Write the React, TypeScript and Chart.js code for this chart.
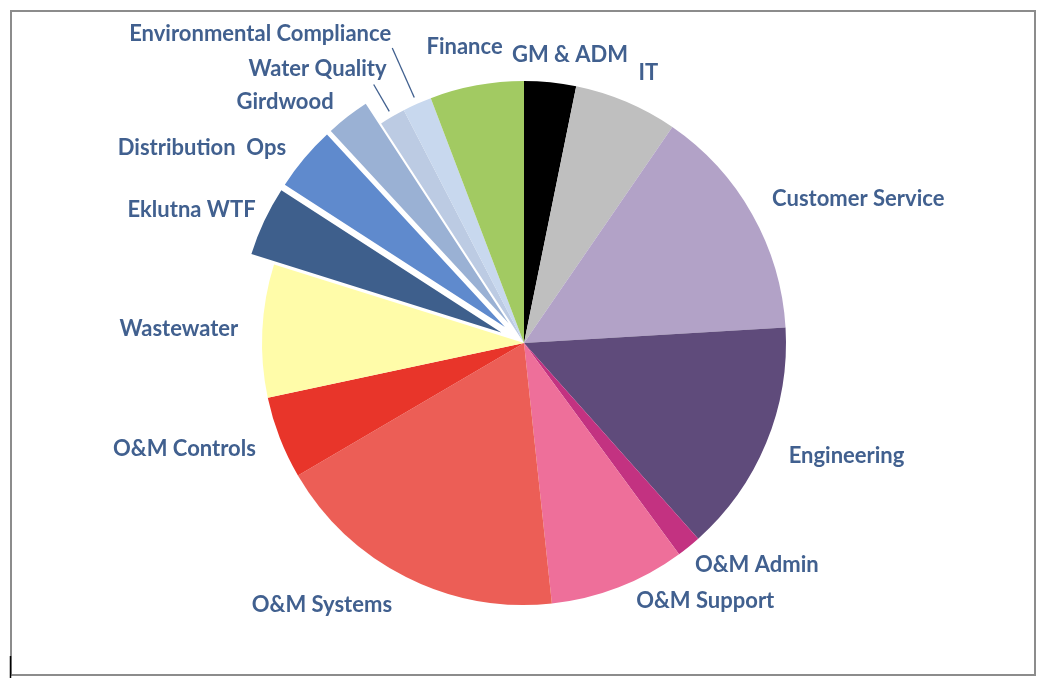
import { useEffect, useRef } from "react";
import { Chart, registerables } from "chart.js";

Chart.register(...registerables);

const categories = [
  "GM & ADM",
  "IT",
  "Customer Service",
  "Engineering",
  "O&M Admin",
  "O&M Support",
  "O&M Systems",
  "O&M Controls",
  "Wastewater",
  "Eklutna WTF",
  "Distribution  Ops",
  "Girdwood",
  "Water Quality",
  "Environmental Compliance",
  "Finance",
];
const shares = [3.2, 6.4, 14.5, 14.4, 1.5, 8.4, 18.3, 5.1, 8.2, 4.3, 4.0, 2.7, 1.6, 1.8, 5.8];
const sliceColors = [
  "#000000",
  "#BFBFBF",
  "#B2A2C7",
  "#5F4B7B",
  "#C33281",
  "#EE6F9A",
  "#EC5E56",
  "#E8352A",
  "#FFFCA9",
  "#3E5F8C",
  "#5F8ACD",
  "#9AB1D4",
  "#BCCBE3",
  "#C8D8EE",
  "#A2CA62",
];
const explodedSlices = [false, false, false, false, false, false, false, false, false, true, true, true, false, false, false];

// label placement tweaks (distance beyond the rim, horizontal nudge)
const labelGap = [28, 31, 31, 33, 24, 15, 31, 32, 28, 25, 16, 18, 55, 76, 39];
const labelNudge = [17, 0, -7, -8, -9, 12, 0, 6, 4, 14, -6, -3, 22, 5, -5];
const leaderLines: Record<number, [number, number]> = { 12: [6, 37], 13: [7, 61] };

const EXPLODE = 25;
const LABEL_COLOR = "#41608F";

const explodePlugin = {
  id: "explodeSlices",
  beforeDatasetDraw(chart: any, args: any) {
    const ctx = chart.ctx;
    args.meta.data.forEach((arc: any, i: number) => {
      const d = explodedSlices[i] ? EXPLODE : 0;
      const mid = (arc.startAngle + arc.endAngle) / 2;
      ctx.save();
      ctx.translate(Math.cos(mid) * d, Math.sin(mid) * d);
      arc.draw(ctx);
      ctx.restore();
    });
    return false;
  },
};

const labelPlugin = {
  id: "outsideLabels",
  afterDraw(chart: any) {
    const ctx = chart.ctx;
    const meta = chart.getDatasetMeta(0);
    ctx.save();
    ctx.font = "bold 22px Lato, 'Open Sans', sans-serif";
    ctx.fillStyle = LABEL_COLOR;
    ctx.textBaseline = "middle";
    meta.data.forEach((arc: any, i: number) => {
      const mid = (arc.startAngle + arc.endAngle) / 2;
      const cx = Math.cos(mid);
      const cy = Math.sin(mid);
      const R = arc.outerRadius;
      const ex = explodedSlices[i] ? EXPLODE : 0;
      const dist = R + ex + labelGap[i];
      const x = arc.x + cx * dist + labelNudge[i];
      const y = arc.y + cy * dist;
      ctx.textAlign = Math.abs(cx) < 0.2 ? "center" : cx > 0 ? "left" : "right";
      ctx.fillText(categories[i], x, y);
      const ll = leaderLines[i];
      if (ll) {
        ctx.beginPath();
        ctx.strokeStyle = LABEL_COLOR;
        ctx.lineWidth = 1.3;
        ctx.moveTo(arc.x + cx * (R + ll[0]), arc.y + cy * (R + ll[0]));
        ctx.lineTo(arc.x + cx * (R + ll[1]), arc.y + cy * (R + ll[1]));
        ctx.stroke();
      }
    });
    ctx.restore();
  },
};

const framePlugin = {
  id: "frame",
  beforeDraw(chart: any) {
    const ctx = chart.ctx;
    ctx.save();
    ctx.fillStyle = "#ffffff";
    ctx.fillRect(0, 0, chart.width, chart.height);
    ctx.strokeStyle = "#8C8C8C";
    ctx.lineWidth = 2;
    ctx.strokeRect(11, 11, 1024, 664);
    ctx.beginPath();
    ctx.strokeStyle = "#000000";
    ctx.lineWidth = 1.5;
    ctx.moveTo(10.5, 656);
    ctx.lineTo(10.5, 678);
    ctx.stroke();
    ctx.restore();
  },
};

export default function App() {
  const canvasRef = useRef<HTMLCanvasElement | null>(null);

  useEffect(() => {
    if (!canvasRef.current) return;
    const chart = new Chart(canvasRef.current, {
      type: "pie",
      data: {
        labels: categories,
        datasets: [
          {
            data: shares,
            backgroundColor: sliceColors,
            borderWidth: 0,
            radius: 262,
          } as any,
        ],
      },
      options: {
        responsive: false,
        animation: false,
        layout: { padding: 0 },
        plugins: {
          legend: { display: false },
          tooltip: { enabled: false },
          title: { display: false },
        },
      },
      plugins: [framePlugin, explodePlugin, labelPlugin],
    });
    return () => chart.destroy();
  }, []);

  return (
    <div style={{ position: "fixed", left: 0, top: 0, width: 1048, height: 686, background: "#fff" }}>
      <canvas ref={canvasRef} width={1048} height={686} style={{ display: "block" }} />
    </div>
  );
}
